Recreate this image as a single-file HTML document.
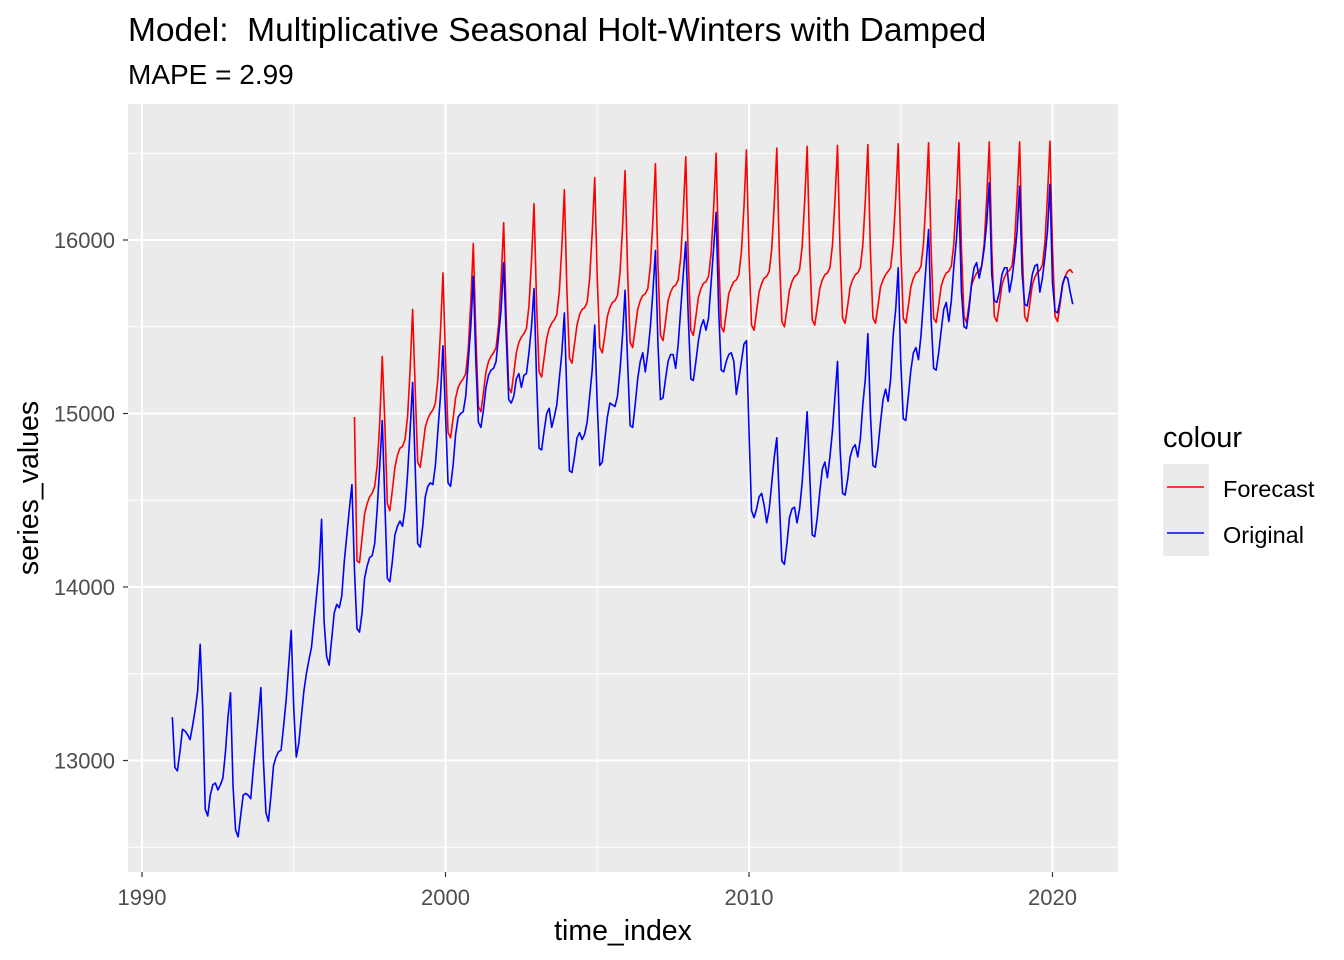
<!DOCTYPE html>
<html><head><meta charset="utf-8"><style>
html,body{margin:0;padding:0;background:#fff;}
svg{display:block;font-family:"Liberation Sans",Arial,sans-serif;}
</style></head><body>
<svg id="chart" width="1344" height="960" viewBox="0 0 1344 960" xmlns="http://www.w3.org/2000/svg">
<rect width="1344" height="960" fill="#fff"/>
<text x="128" y="41" font-size="33.5" fill="#000" style="white-space:pre">Model:  Multiplicative Seasonal Holt-Winters with Damped</text>
<text x="128" y="84" font-size="28" fill="#000">MAPE = 2.99</text>
<rect x="128" y="104" width="990" height="768" fill="#ebebeb"/>
<g id="grid"></g>
<g id="series"></g>
<g id="axes"></g>
<text x="623" y="940" font-size="28.5" text-anchor="middle" fill="#000">time_index</text>
<text transform="translate(38,488) rotate(-90)" font-size="28.5" text-anchor="middle" fill="#000">series_values</text>
<g>
<text x="1163" y="447" font-size="29" fill="#000">colour</text>
<rect x="1163" y="464" width="46" height="92" fill="#ebebeb"/>
<line x1="1167" y1="487" x2="1204" y2="487" stroke="#ff0000" stroke-width="1.6"/>
<line x1="1167" y1="533" x2="1204" y2="533" stroke="#0000ff" stroke-width="1.6"/>
<text x="1223" y="497" font-size="23.5" fill="#000">Forecast</text>
<text x="1223" y="543" font-size="23.5" fill="#000">Original</text>
</g>
</svg>
<script>
const originalStart = 1991;
const forecastStart = 1997;
const xTicks = [1990, 2000, 2010, 2020];
const xMinor = [1995, 2005, 2015];
const yTicks = [13000, 14000, 15000, 16000];
const yMinor = [12500, 13500, 14500, 15500, 16500];
const originalValues = [
13250,12960,12940,13050,13180,13170,13150,13120,13200,13290,13400,13670,
13300,12720,12680,12800,12860,12870,12830,12860,12900,13050,13250,13390,
12850,12600,12560,12680,12800,12810,12800,12780,12950,13100,13250,13420,
13000,12700,12650,12800,12970,13020,13050,13060,13200,13350,13550,13750,
13300,13020,13100,13250,13400,13500,13580,13650,13800,13950,14100,14390,
13800,13600,13550,13700,13850,13900,13880,13950,14150,14300,14450,14590,
14100,13760,13740,13850,14050,14120,14170,14180,14250,14450,14700,14960,
14500,14050,14030,14150,14300,14350,14380,14350,14450,14650,14900,15180,
14700,14250,14230,14350,14520,14580,14600,14590,14700,14900,15100,15390,
15000,14600,14580,14700,14880,14980,15000,15010,15100,15300,15500,15790,
15300,14950,14920,15020,15150,15220,15250,15260,15300,15450,15600,15870,
15450,15080,15060,15100,15200,15230,15150,15220,15230,15350,15500,15720,
15200,14800,14790,14900,15000,15030,14920,14980,15050,15200,15350,15580,
15100,14670,14660,14750,14860,14890,14850,14880,14950,15100,15250,15510,
15050,14700,14720,14850,14980,15060,15050,15040,15100,15250,15450,15710,
15300,14930,14920,15050,15200,15300,15350,15240,15350,15500,15700,15940,
15400,15080,15090,15200,15300,15340,15340,15260,15400,15600,15800,15990,
15550,15200,15190,15300,15420,15500,15540,15480,15550,15750,15950,16160,
15600,15250,15240,15300,15340,15350,15300,15110,15200,15300,15400,15420,
14900,14440,14400,14450,14520,14540,14470,14370,14450,14600,14750,14860,
14500,14150,14130,14250,14400,14450,14460,14370,14450,14600,14800,15010,
14650,14300,14290,14400,14550,14680,14720,14630,14750,14900,15100,15300,
14800,14540,14530,14620,14750,14800,14820,14750,14850,15050,15200,15460,
15000,14700,14690,14800,14950,15080,15140,15070,15200,15450,15600,15840,
15300,14970,14960,15100,15250,15350,15380,15310,15450,15650,15850,16060,
15550,15260,15250,15350,15480,15600,15640,15530,15650,15850,16000,16230,
15700,15500,15490,15600,15750,15840,15870,15780,15850,15950,16100,16330,
15800,15650,15640,15700,15800,15840,15840,15700,15780,15900,16050,16310,
15800,15630,15620,15700,15800,15850,15860,15700,15780,15900,16050,16320,
15750,15590,15580,15650,15750,15790,15780,15700,15630
];
const forecastValues = [
14980,14150,14140,14280,14420,14480,14520,14540,14580,14700,14950,15330,
14950,14480,14440,14560,14690,14760,14800,14810,14850,14980,15250,15600,
15150,14720,14690,14800,14920,14970,15000,15020,15060,15200,15470,15810,
15320,14890,14860,14970,15090,15150,15180,15200,15230,15370,15640,15980,
15450,15040,15010,15120,15240,15300,15330,15350,15380,15510,15770,16100,
15560,15150,15120,15230,15350,15410,15440,15460,15490,15620,15880,16210,
15640,15240,15210,15320,15430,15490,15520,15540,15570,15700,15960,16290,
15710,15320,15290,15400,15510,15570,15600,15610,15640,15780,16040,16360,
15780,15380,15350,15450,15560,15610,15640,15650,15680,15810,16070,16400,
15820,15410,15380,15490,15600,15650,15680,15690,15720,15850,16110,16440,
15860,15450,15420,15530,15650,15700,15730,15740,15770,15900,16160,16480,
15880,15480,15450,15560,15670,15720,15750,15760,15790,15920,16180,16500,
15900,15500,15470,15580,15690,15730,15760,15770,15800,15930,16190,16520,
15910,15510,15480,15590,15700,15750,15780,15790,15820,15950,16210,16530,
15920,15530,15500,15600,15710,15760,15790,15800,15830,15960,16220,16540,
15930,15540,15510,15610,15720,15770,15800,15810,15840,15970,16230,16545,
15940,15550,15520,15620,15730,15770,15800,15810,15840,15970,16230,16550,
15940,15550,15520,15620,15730,15770,15800,15820,15840,15980,16240,16555,
15950,15550,15520,15620,15730,15780,15810,15820,15850,15980,16240,16560,
15950,15550,15525,15625,15735,15780,15810,15820,15850,15980,16240,16560,
15950,15560,15525,15630,15740,15780,15810,15820,15850,15980,16245,16565,
15950,15560,15530,15630,15740,15785,15815,15825,15850,15985,16250,16565,
15955,15560,15530,15630,15740,15785,15815,15825,15855,15985,16250,16570,
15955,15560,15530,15630,15740,15790,15820,15830,15810
];

const NS = 'http://www.w3.org/2000/svg';
const X0 = 142, XPY = 30.35;
const Y16 = 240, YPU = 0.1735;
const PL = 128, PR = 1118, PT = 104, PB = 872;
function xScale(t){ return X0 + (t - 1990) * XPY; }
function yScale(v){ return Y16 - (v - 16000) * YPU; }
function mk(tag, attrs, parent){
  const e = document.createElementNS(NS, tag);
  for (const k in attrs) e.setAttribute(k, attrs[k]);
  parent.appendChild(e);
  return e;
}
const grid = document.getElementById('grid');
const axes = document.getElementById('axes');
const series = document.getElementById('series');

yMinor.forEach(v => {
  const y = yScale(v);
  const l = mk('line', {x1:PL, x2:PR, y1:y, y2:y, stroke:'#fff', 'stroke-width':1}, grid);
  
  
});
xMinor.forEach(t => {
  const x = xScale(t);
  const l = mk('line', {x1:x, x2:x, y1:PT, y2:PB, stroke:'#fff', 'stroke-width':1}, grid);
  
  
});
yTicks.forEach(v => {
  const y = yScale(v);
  const l = mk('line', {x1:PL, x2:PR, y1:y, y2:y, stroke:'#fff', 'stroke-width':2}, grid);
  
  
  const tk = mk('line', {x1:PL-5, x2:PL, y1:y, y2:y, stroke:'#333', 'stroke-width':1.2}, axes);
  
  
  const tx = mk('text', {x:PL-13, y:y+8, 'font-size':22, 'text-anchor':'end', fill:'#4d4d4d'}, axes);
  tx.textContent = v;
  
  
});
xTicks.forEach(t => {
  const x = xScale(t);
  const l = mk('line', {x1:x, x2:x, y1:PT, y2:PB, stroke:'#fff', 'stroke-width':2}, grid);
  
  
  const tk = mk('line', {x1:x, x2:x, y1:PB, y2:PB+5, stroke:'#333', 'stroke-width':1.2}, axes);
  
  
  const tx = mk('text', {x:x, y:PB+33, 'font-size':22, 'text-anchor':'middle', fill:'#4d4d4d'}, axes);
  tx.textContent = t;
  
  
});

function linePath(vals, start){
  return vals.map((v,i) => (i ? 'L' : 'M') + xScale(start + i/12).toFixed(2) + ',' + yScale(v).toFixed(2)).join('');
}
const pf = mk('path', {d:linePath(forecastValues, forecastStart), fill:'none', stroke:'#ff0000', 'stroke-width':1.6, 'stroke-linejoin':'round'}, series);


const po = mk('path', {d:linePath(originalValues, originalStart), fill:'none', stroke:'#0000ff', 'stroke-width':1.6, 'stroke-linejoin':'round'}, series);


</script>
</body></html>
